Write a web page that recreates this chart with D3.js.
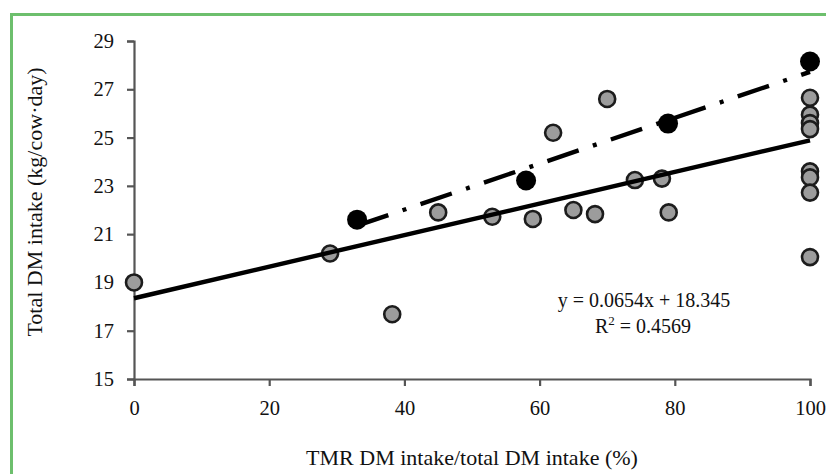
<!DOCTYPE html>
<html>
<head>
<meta charset="utf-8">
<script src="https://cdn.jsdelivr.net/npm/d3@7"></script>
<style>
  html, body { margin: 0; padding: 0; background: #fff; }
  svg { display: block; }
  text { font-family: "Liberation Serif", "Times New Roman", serif; fill: #111; }
</style>
</head>
<body>
<svg id="chart" width="826" height="474"></svg>
<script>
// ---- data ----
const grayX = [0, 29, 38.2, 45, 53, 59, 62, 65, 68.2, 70, 74.1, 78.1, 79.1, 100, 100, 100, 100, 100, 100, 100, 100];
const grayY = [19.0, 20.2, 17.68, 21.9, 21.72, 21.63, 25.2, 22.0, 21.83, 26.6, 23.24, 23.3, 21.9, 26.65, 25.95, 25.6, 25.35, 23.6, 23.35, 22.72, 20.05];
const blackX = [33, 58, 79, 100];
const blackY = [21.6, 23.22, 25.58, 28.15];
const trendSolidX = [0, 100];
const trendSolidY = [18.345, 24.885];
const trendDashX = [33, 100];
const trendDashY = [21.35, 27.72];
const xTicks = [0, 20, 40, 60, 80, 100];
const yTicks = [15, 17, 19, 21, 23, 25, 27, 29];
const xTitle = "TMR DM intake/total DM intake (%)";
const yTitle = "Total DM intake (kg/cow·day)";
const eqLine1 = "y = 0.0654x + 18.345";
const eqR2 = "0.4569";

// ---- chart ----
const svg = d3.select("#chart");
const x = d3.scaleLinear().domain([0, 100]).range([134, 810]);
const y = d3.scaleLinear().domain([15, 29]).range([379, 41]);

// green frame
svg.append("rect")
  .attr("x", 11.5).attr("y", 14.5)
  .attr("width", 840).attr("height", 500)
  .attr("fill", "none").attr("stroke", "#6dbf6d").attr("stroke-width", 3);

// axes
const xAxis = svg.append("g")
  .attr("transform", `translate(0,${y(15)})`)
  .call(d3.axisBottom(x).tickValues(xTicks).tickFormat(d3.format("d")).tickSize(7).tickPadding(14).tickSizeOuter(7));
const yAxis = svg.append("g")
  .attr("transform", `translate(${x(0)},0)`)
  .call(d3.axisLeft(y).tickValues(yTicks).tickFormat(d3.format("d")).tickSize(7).tickPadding(13).tickSizeOuter(7));

[xAxis, yAxis].forEach(g => {
  g.selectAll("path.domain").attr("stroke", "#555").attr("stroke-width", 2.2);
  g.selectAll(".tick line").attr("stroke", "#555").attr("stroke-width", 2.2);
  g.selectAll(".tick text")
    .style("font-family", '"Liberation Serif", "Times New Roman", serif')
    .style("font-size", "20.5px").attr("fill", "#111");
});

// gray points
const grayData = grayX.map((d, i) => ({ x: d, y: grayY[i] }));
svg.append("g").selectAll("circle")
  .data(grayData).join("circle")
  .attr("cx", d => x(d.x)).attr("cy", d => y(d.y))
  .attr("r", 8)
  .attr("fill", "#9c9c9c").attr("stroke", "#1c1c1c").attr("stroke-width", 2.6);

// trend lines
const line = d3.line().x(d => x(d[0])).y(d => y(d[1]));
svg.append("path")
  .datum(trendSolidX.map((d, i) => [d, trendSolidY[i]]))
  .attr("d", line).attr("fill", "none")
  .attr("stroke", "#000").attr("stroke-width", 4.4);

svg.append("path")
  .datum(trendDashX.map((d, i) => [d, trendDashY[i]]))
  .attr("d", line).attr("fill", "none")
  .attr("stroke", "#000").attr("stroke-width", 4.4)
  .attr("stroke-dasharray", "33,15,4,15");

// black points
const blackData = blackX.map((d, i) => ({ x: d, y: blackY[i] }));
svg.append("g").selectAll("circle")
  .data(blackData).join("circle")
  .attr("cx", d => x(d.x)).attr("cy", d => y(d.y))
  .attr("r", 10).attr("fill", "#000");

// equation
const eq = svg.append("g").style("font-size", "20px");
eq.append("text").attr("x", 644).attr("y", 307).attr("text-anchor", "middle").text(eqLine1);
const r2 = eq.append("text").attr("x", 643).attr("y", 333).attr("text-anchor", "middle");
r2.append("tspan").text("R");
r2.append("tspan").attr("dy", -8).style("font-size", "13px").text("2");
r2.append("tspan").attr("dy", 8).text(" = " + eqR2);

// axis titles
svg.append("text")
  .attr("x", 472).attr("y", 465)
  .attr("text-anchor", "middle").style("font-size", "22px")
  .text(xTitle);
svg.append("text")
  .attr("transform", `translate(42,202) rotate(-90)`)
  .attr("text-anchor", "middle").style("font-size", "22px")
  .text(yTitle);
</script>
</body>
</html>
